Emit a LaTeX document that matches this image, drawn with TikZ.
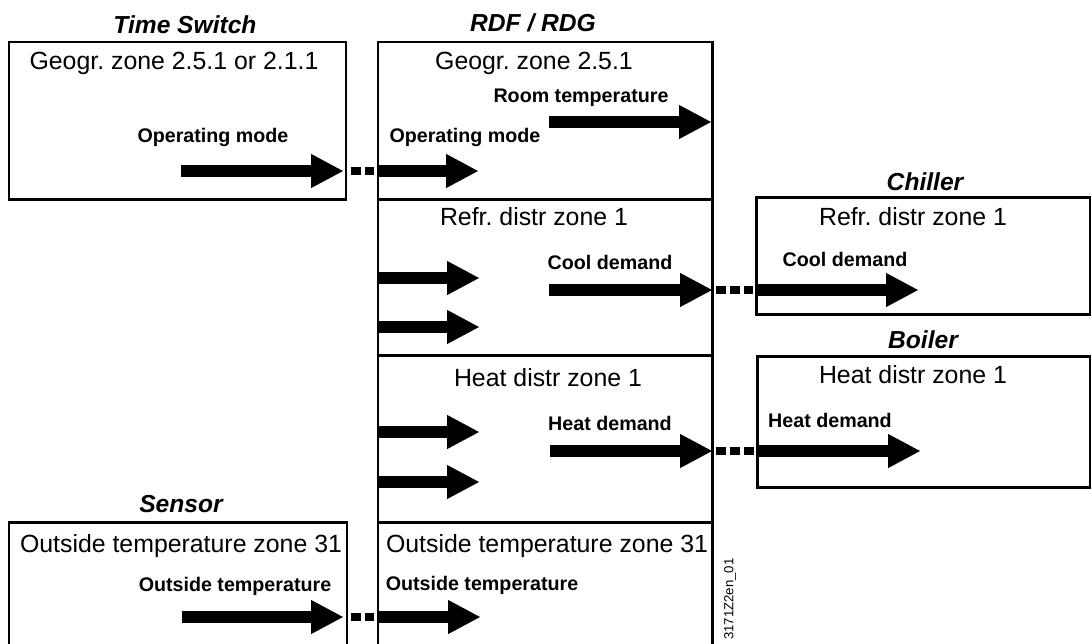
\documentclass[tikz,border=0pt]{standalone}
\usepackage{fontspec}
\setmainfont{Liberation Sans}
\usetikzlibrary{arrows.meta}
\frenchspacing
\tikzset{
  zonebox/.style={line width=1.7pt},
  zonetext/.style={inner sep=0pt, font=\fontsize{14.15}{16}\selectfont},
  devtitle/.style={inner sep=0pt, font=\fontsize{14}{16}\selectfont\bfseries\itshape},
  sigtext/.style={inner sep=0pt, font=\fontsize{11.2}{13}\selectfont\bfseries},
  sig/.style={line width=6.3pt, -{Triangle[length=18.2pt,width=19.5pt,line width=0pt]}},
  link/.style={line width=4.3pt, dash pattern=on 5.7pt off 2.3pt, shorten <=0.08cm, shorten >=0.08cm}
}

\begin{document}
\begin{tikzpicture}[x=0.02cm,y=-0.02cm]
  \useasboundingbox (0,0) rectangle (1091,643);
  \draw[zonebox] (9,42) rectangle (346,199);
  \draw[zonebox] (378,670) -- (378,42) -- (712,42) -- (712,670);
  \foreach \y in {199,355,522}
    \draw[zonebox] (378,\y) -- (712,\y);
  \draw[zonebox] (756,197) rectangle (1090,314);
  \draw[zonebox] (757,356) rectangle (1090,487);
  \draw[zonebox] (9,670) -- (9,522) -- (347,522) -- (347,670);

  \node[devtitle] (tswTitle) at (185,25) {Time Switch};
  \node[devtitle] (rdfTitle) at (533,23) {RDF / RDG};
  \node[devtitle] (chlTitle) at (925,182) {Chiller};
  \node[devtitle] (blrTitle) at (923,340) {Boiler};
  \node[devtitle] (snsTitle) at (181,504) {Sensor};

  \node[zonetext] (tswZone) at (174,63) {Geogr. zone 2.5.1 or 2.1.1};
  \node[zonetext] (rdfGeo) at (534,63) {Geogr. zone 2.5.1};
  \node[zonetext] (rdfRefr) at (534,217) {Refr. distr zone 1};
  \node[zonetext] (rdfHeat) at (548,378) {Heat distr zone 1};
  \node[zonetext] (rdfOut) at (547,546) {Outside temperature zone 31};
  \node[zonetext] (chlZone) at (913,217) {Refr. distr zone 1};
  \node[zonetext] (blrZone) at (913,375) {Heat distr zone 1};
  \node[zonetext] (snsZone) at (181,546) {Outside temperature zone 31};

  \node[sigtext] (tswOpText) at (213,137) {Operating mode};
  \node[sigtext] (rdfOpText) at (465,137) {Operating mode};
  \node[sigtext] (rdfRoomText) at (581,98) {Room temperature};
  \node[sigtext] (rdfCoolText) at (610,262) {Cool demand};
  \node[sigtext] (chlCoolText) at (845,259) {Cool demand};
  \node[sigtext] (rdfHeatText) at (610,423) {Heat demand};
  \node[sigtext] (blrHeatText) at (830,420) {Heat demand};
  \node[sigtext] (snsOutText) at (235,586) {Outside temperature};
  \node[sigtext] (rdfOutText) at (482,585) {Outside temperature};

  \coordinate (tswOpA) at (181,171);
  \coordinate (tswOpB) at (343,171);
  \coordinate (rdfOpA) at (378,171);
  \coordinate (rdfOpB) at (478,171);
  \coordinate (rdfRoomA) at (549,122);
  \coordinate (rdfRoomB) at (711,122);
  \coordinate (rdfCoolA) at (549,290);
  \coordinate (rdfCoolB) at (712,290);
  \coordinate (chlCoolA) at (757,290);
  \coordinate (chlCoolB) at (918,290);
  \coordinate (rdfHeatA) at (550,451);
  \coordinate (rdfHeatB) at (712,451);
  \coordinate (blrHeatA) at (758,451);
  \coordinate (blrHeatB) at (920,451);
  \coordinate (snsOutA) at (182,617);
  \coordinate (snsOutB) at (343,617);
  \coordinate (rdfOutA) at (378,617);
  \coordinate (rdfOutB) at (480,617);

  \draw[sig] (tswOpA) -- (tswOpB);
  \draw[sig] (rdfOpA) -- (rdfOpB);
  \draw[sig] (rdfRoomA) -- (rdfRoomB);
  \draw[sig] (rdfCoolA) -- (rdfCoolB);
  \draw[sig] (chlCoolA) -- (chlCoolB);
  \draw[sig] (rdfHeatA) -- (rdfHeatB);
  \draw[sig] (blrHeatA) -- (blrHeatB);
  \draw[sig] (snsOutA) -- (snsOutB);
  \draw[sig] (rdfOutA) -- (rdfOutB);
  \foreach \y in {278,327,432,482}{
    \coordinate (rdfIn\y A) at (378,\y);
    \coordinate (rdfIn\y B) at (479,\y);
    \draw[sig] (rdfIn\y A) -- (rdfIn\y B);
  }

  \draw[link, shorten <=0.16cm] (tswOpB) -- (rdfOpA);
  \draw[link] (rdfCoolB) -- (chlCoolA);
  \draw[link] (rdfHeatB) -- (blrHeatA);
  \draw[link, shorten <=0.16cm] (snsOutB) -- (rdfOutA);

  \node[font=\fontsize{7.5}{9}\selectfont, rotate=90, anchor=east, inner sep=0pt] (docCode) at (730,558) {3171Z2en\_01};
\end{tikzpicture}
\end{document}
